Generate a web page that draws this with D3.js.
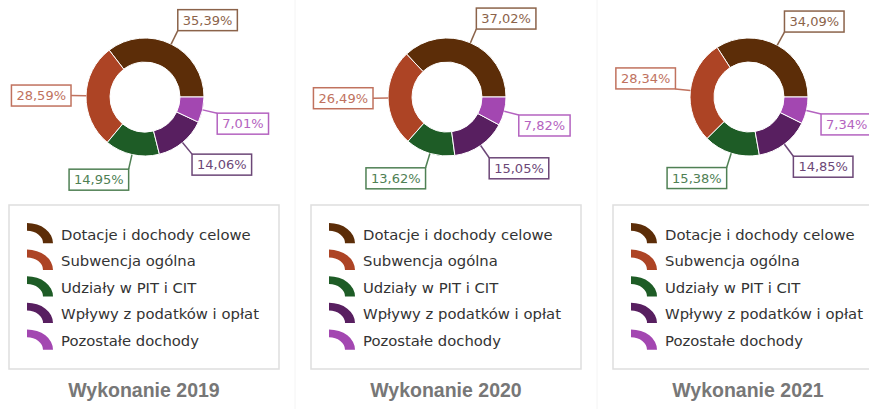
<!DOCTYPE html>
<html lang="pl">
<head>
<meta charset="UTF-8">
<title>Struktura dochodów</title>
<script src="https://d3js.org/d3.v7.min.js"></script>
<style>
    body { margin: 0; background: #fff; }
    svg { display: block; }
</style>
</head>
<body>
<div id="chart"></div>
<script>
// data
const categories = ['Dotacje i dochody celowe', 'Subwencja ogólna', 'Udziały w PIT i CIT', 'Wpływy z podatków i opłat', 'Pozostałe dochody'];
const titles = ['Wykonanie 2019', 'Wykonanie 2020', 'Wykonanie 2021'];
const values2019 = [35.39, 28.59, 14.95, 14.06, 7.01];
const values2020 = [37.02, 26.49, 13.62, 15.05, 7.82];
const values2021 = [34.09, 28.34, 15.38, 14.85, 7.34];
const series = [values2019, values2020, values2021];

const sliceColors = ['#5c2d08', '#ad4425', '#1e5c26', '#581f60', '#a347b1'];
const labelColors = ['#8b634a', '#c0725e', '#4f8054', '#6c4777', '#b463c0'];

const width = 869, height = 409;
const pitch = 302, boxLeft0 = 9, boxW = 270;
const cy = 97, rOuter = 59, rInner = 35, rLabel = 74;

const pl = d3.formatLocale({decimal: ',', thousands: ' ', grouping: [3], currency: ['', ' zł']});
const fmt = pl.format('.2f');

const svg = d3.select('#chart').append('svg')
    .attr('width', width)
    .attr('height', height);

// faint panel separators
[1, 2].forEach(i => {
    svg.append('line')
        .attr('x1', boxLeft0 + i * pitch - 16).attr('x2', boxLeft0 + i * pitch - 16)
        .attr('y1', 0).attr('y2', height)
        .attr('stroke', '#f4f4f4').attr('stroke-width', 1);
});

const pie = d3.pie()
    .value(d => d)
    .sort(null)
    .startAngle(Math.PI / 2)
    .endAngle(Math.PI / 2 - 2 * Math.PI);

const arc = d3.arc().innerRadius(rInner).outerRadius(rOuter);
const iconArc = d3.arc().innerRadius(16).outerRadius(26).startAngle(0).endAngle(Math.PI / 2);

series.forEach((vals, p) => {
    const boxLeft = boxLeft0 + p * pitch;
    const cx = boxLeft + 136;
    const g = svg.append('g');

    const donut = g.append('g').attr('transform', `translate(${cx},${cy})`);
    const arcs = pie(vals);

    donut.selectAll('path')
        .data(arcs)
        .enter()
        .append('path')
        .attr('d', arc)
        .attr('fill', (d, i) => sliceColors[i])
        .attr('stroke', '#fff')
        .attr('stroke-width', 1);

    // labels, box sized to the text
    arcs.forEach((d, i) => {
        const a = (d.startAngle + d.endAngle) / 2;
        const dx = Math.sin(a), dy = -Math.cos(a);
        const px = dx * rLabel, py = dy * rLabel;

        donut.append('line')
            .attr('x1', dx * rOuter).attr('y1', dy * rOuter)
            .attr('x2', px).attr('y2', py)
            .attr('stroke', labelColors[i])
            .attr('stroke-width', 1.5);

        const rect = donut.append('rect');
        const text = donut.append('text')
            .attr('dy', '0.36em')
            .attr('text-anchor', 'middle')
            .style('font-family', 'DejaVu Sans, sans-serif')
            .style('font-size', '13px')
            .style('fill', labelColors[i])
            .text(fmt(d.data) + '%');

        const bw = text.node().getComputedTextLength() + 10, bh = 21;
        const bx = dx >= 0 ? px : px - bw;
        let by;
        if (Math.abs(dy) < 0.1) by = py - bh / 2;
        else if (dy > 0) by = py;
        else by = py - bh;

        rect.attr('x', bx).attr('y', by)
            .attr('width', bw).attr('height', bh)
            .attr('fill', '#fff')
            .attr('stroke', labelColors[i])
            .attr('stroke-width', 1.5);
        text.attr('x', bx + bw / 2).attr('y', by + bh / 2);
    });

    // legend
    g.append('rect')
        .attr('x', boxLeft).attr('y', 205)
        .attr('width', boxW).attr('height', 164)
        .attr('fill', '#fff')
        .attr('stroke', '#dedede')
        .attr('stroke-width', 1.5);

    categories.forEach((c, i) => {
        const ry = 234.3 + i * 26.6;
        g.append('path')
            .attr('d', iconArc())
            .attr('transform', `translate(${boxLeft + 18},${ry + 9}) scale(1,0.78)`)
            .attr('fill', sliceColors[i]);
        g.append('text')
            .attr('x', boxLeft + 52).attr('y', ry)
            .attr('dy', '0.36em')
            .style('font-family', 'DejaVu Sans, sans-serif')
            .style('font-size', '14.8px')
            .style('fill', '#333')
            .text(c);
    });

    g.append('text')
        .attr('x', boxLeft + boxW / 2).attr('y', 397)
        .attr('text-anchor', 'middle')
        .style('font-family', 'Liberation Sans, Arial, sans-serif')
        .style('font-weight', 'bold')
        .style('font-size', '19.5px')
        .style('fill', '#777')
        .text(titles[p]);
});
</script>
</body>
</html>
